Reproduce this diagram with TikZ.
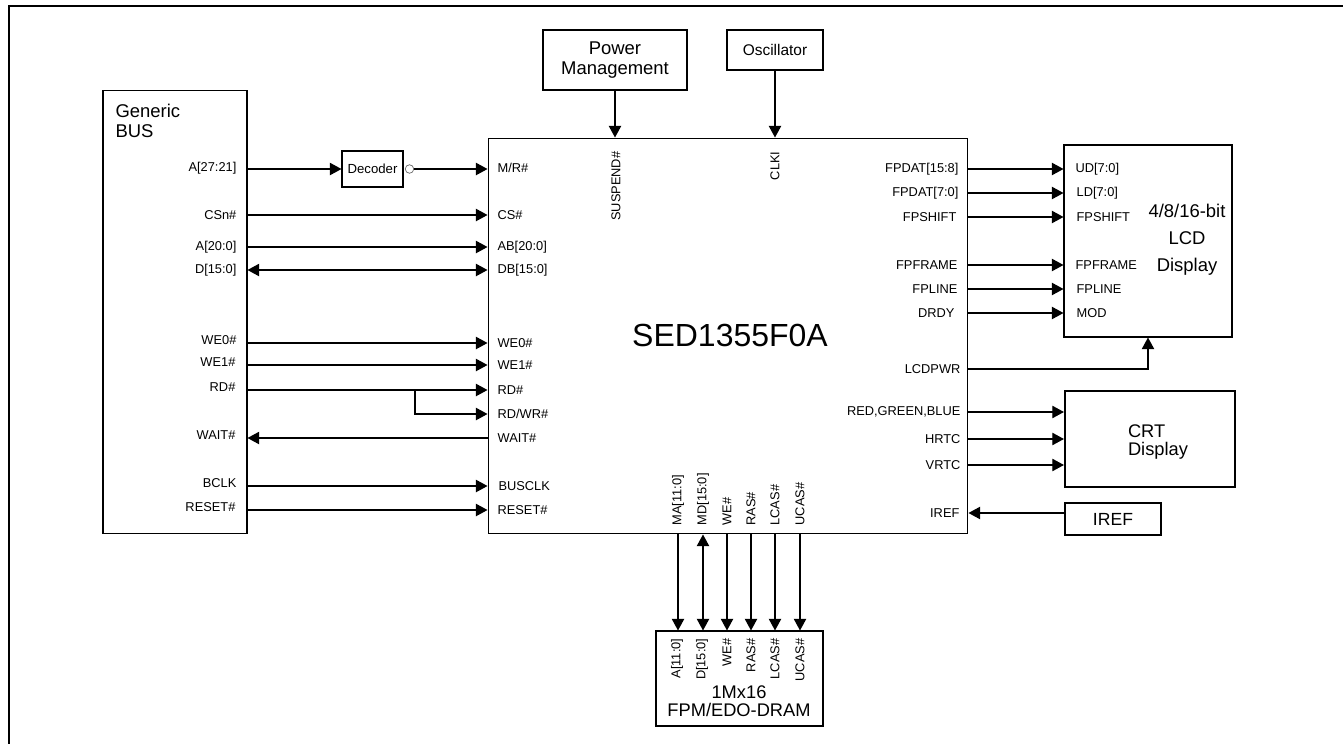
\documentclass[tikz,border=0pt]{standalone}
\usepackage{fontspec}
\setmainfont{Liberation Sans}
\usetikzlibrary{arrows.meta}
\tikzset{>={Triangle[length=6.6pt,width=7pt]}}

\begin{document}
\begin{tikzpicture}[x=0.02cm,y=-0.02cm,line width=0.7pt,
	box/.style={draw,line width=0.6pt,inner sep=0pt},
	sigw/.style={anchor=east,inner sep=0pt,font=\fontsize{7.3}{8.6}\selectfont},
	sige/.style={anchor=west,inner sep=0pt,font=\fontsize{7.3}{8.6}\selectfont},
	sigv/.style={rotate=90,inner sep=0pt,font=\fontsize{7.3}{8.6}\selectfont},
	big/.style={font=\fontsize{10.5}{11.3}\selectfont}]
	\useasboundingbox (0,0) rectangle (1343,744);
	\draw[line width=1.7pt] (9,744) -- (9,6) -- (1343,6);

	% blocks
	\node[box,minimum width=2.88cm,minimum height=8.88cm] (bus) at (175,312) {};
	\node[big,align=left,anchor=north west,inner sep=0pt] (bust) at (115,104) {Generic\\BUS};
	\node[box,minimum width=9.6cm,minimum height=7.92cm] (sed) at (728,336) {};
	\node[font=\fontsize{18.2}{22}\selectfont] (sedt) at (730,335) {SED1355F0A};
	\node[box,big,align=center,minimum width=2.88cm,minimum height=1.2cm] (pm) at (615,60) {Power\\Management};
	\node[box,font=\fontsize{8.8}{10}\selectfont,minimum width=1.92cm,minimum height=0.8cm] (osc) at (775,50) {Oscillator};
	\node[box,font=\fontsize{7.5}{9}\selectfont,minimum width=1.22cm,minimum height=0.72cm] (dec) at (372.5,169) {Decoder};
	\node[draw=black!60,circle,line width=0.4pt,inner sep=0pt,minimum size=0.17cm] (bub) at (409.5,169) {};
	\node[box,minimum width=3.36cm,minimum height=3.84cm] (lcd) at (1148,241) {};
	\node[align=center,font=\fontsize{10.5}{15.3}\selectfont] (lcdt) at (1187,240) {4/8/16-bit\\LCD\\Display};
	\node[box,line width=1.2pt,minimum width=3.4cm,minimum height=1.92cm] (crt) at (1150,439) {};
	\node[big,align=left,font=\fontsize{10.4}{10.8}\selectfont] (crtt) at (1158,442) {CRT\\Display};
	\node[box,line width=1.2pt,minimum width=1.92cm,minimum height=0.64cm,font=\fontsize{10}{12}\selectfont] (iref) at (1113,519) {IREF};
	\node[box,minimum width=3.34cm,minimum height=1.9cm] (dram) at (739.5,678.5) {};
	\node[align=center,font=\fontsize{10.4}{10.4}\selectfont] (dramt) at (739,701) {1Mx16\\FPM/EDO-DRAM};

	% bus side
	\node[sigw] (ba) at (237,168) {A[27:21]};
	\node[sigw] (bcs) at (237,215) {CSn\#};
	\node[sigw] (bab) at (237,247) {A[20:0]};
	\node[sigw] (bdb) at (237,270) {D[15:0]};
	\node[sigw] (bwe0) at (237,340) {WE0\#};
	\node[sigw] (bwe1) at (236,362) {WE1\#};
	\node[sigw] (brd) at (236,387) {RD\#};
	\node[sigw] (bwait) at (236,435) {WAIT\#};
	\node[sigw] (bclk) at (237,483) {BCLK};
	\node[sigw] (brst) at (236,507) {RESET\#};

	% chip, left
	\node[sige] (smr) at (497,168) {M/R\#};
	\node[sige] (scs) at (497,215) {CS\#};
	\node[sige] (sab) at (497,247) {AB[20:0]};
	\node[sige] (sdb) at (497,270) {DB[15:0]};
	\node[sige] (swe0) at (497,343) {WE0\#};
	\node[sige] (swe1) at (497,365) {WE1\#};
	\node[sige] (srd) at (497,390) {RD\#};
	\node[sige] (srw) at (497,414) {RD/WR\#};
	\node[sige] (swait) at (497,438) {WAIT\#};
	\node[sige] (sbclk) at (498,486) {BUSCLK};
	\node[sige] (srst) at (497,510) {RESET\#};

	% chip, top and bottom
	\node[sigv,anchor=east] (ssus) at (616,151) {SUSPEND\#};
	\node[sigv,anchor=east] (sclk) at (775,151) {CLKI};
	\node[sigv,anchor=west] (sma) at (678,526) {MA[11:0]};
	\node[sigv,anchor=west] (smd) at (703,526) {MD[15:0]};
	\node[sigv,anchor=west] (swe) at (727,526) {WE\#};
	\node[sigv,anchor=west] (sras) at (751,526) {RAS\#};
	\node[sigv,anchor=west] (slcas) at (775,526) {LCAS\#};
	\node[sigv,anchor=west] (sucas) at (800,526) {UCAS\#};

	% chip, right
	\node[sigw] (sfh) at (959,169) {FPDAT[15:8]};
	\node[sigw] (sfl) at (959,193) {FPDAT[7:0]};
	\node[sigw] (sfs) at (957,217) {FPSHIFT};
	\node[sigw] (sff) at (958,265) {FPFRAME};
	\node[sigw] (sfln) at (958,289) {FPLINE};
	\node[sigw] (sdr) at (955,313) {DRDY};
	\node[sigw] (spw) at (961,369) {LCDPWR};
	\node[sigw] (srgb) at (961,412) {RED,GREEN,BLUE};
	\node[sigw] (shr) at (961,439) {HRTC};
	\node[sigw] (svr) at (961,465) {VRTC};
	\node[sigw] (sir) at (960,513) {IREF};

	% lcd and dram pins
	\node[sige] (lud) at (1075,169) {UD[7:0]};
	\node[sige] (lld) at (1076,193) {LD[7:0]};
	\node[sige] (lfs) at (1076,217) {FPSHIFT};
	\node[sige] (lff) at (1075,265) {FPFRAME};
	\node[sige] (lfl) at (1076,289) {FPLINE};
	\node[sige] (lmod) at (1076,313) {MOD};
	\node[sigv,anchor=east] (ra) at (677,638) {A[11:0]};
	\node[sigv,anchor=east] (rd) at (702,638) {D[15:0]};
	\node[sigv,anchor=east] (rwe) at (727,638) {WE\#};
	\node[sigv,anchor=east] (rras) at (751,638) {RAS\#};
	\node[sigv,anchor=east] (rlcas) at (775,638) {LCAS\#};
	\node[sigv,anchor=east] (rucas) at (800,638) {UCAS\#};

	% bus connections
	\draw[->] (bus.east |- dec.west) -- (dec.west);
	\draw[->] (bub.east) -- (sed.west |- bub.east);
	\draw[->] (bus.east |- scs.west) -- (sed.west |- scs.west);
	\draw[->] (bus.east |- sab.west) -- (sed.west |- sab.west);
	\draw[<->] (bus.east |- sdb.west) -- (sed.west |- sdb.west);
	\draw[->] (bus.east |- swe0.west) -- (sed.west |- swe0.west);
	\draw[->] (bus.east |- swe1.west) -- (sed.west |- swe1.west);
	\draw[->] (bus.east |- srd.west) -- (sed.west |- srd.west);
	\coordinate (rdj) at (415,390);
	\draw[->] (rdj) |- (sed.west |- srw.west);
	\draw[<-] (bus.east |- swait.west) -- (sed.west |- swait.west);
	\draw[->] (bus.east |- sbclk.west) -- (sed.west |- sbclk.west);
	\draw[->] (bus.east |- srst.west) -- (sed.west |- srst.west);

	% top
	\draw[->] (pm.south) -- (pm.south |- sed.north);
	\draw[->] (osc.south) -- (osc.south |- sed.north);

	% panel and crt
	\draw[->] (sed.east |- sfh.east) -- (lcd.west |- sfh.east);
	\draw[->] (sed.east |- sfl.east) -- (lcd.west |- sfl.east);
	\draw[->] (sed.east |- sfs.east) -- (lcd.west |- sfs.east);
	\draw[->] (sed.east |- sff.east) -- (lcd.west |- sff.east);
	\draw[->] (sed.east |- sfln.east) -- (lcd.west |- sfln.east);
	\draw[->] (sed.east |- sdr.east) -- (lcd.west |- sdr.east);
	\draw[->] (sed.east |- spw.east) -| (lcd.south);
	\draw[->] (sed.east |- srgb.east) -- (crt.west |- srgb.east);
	\draw[->] (sed.east |- shr.east) -- (crt.west |- shr.east);
	\draw[->] (sed.east |- svr.east) -- (crt.west |- svr.east);
	\draw[->] (iref.west |- sir.east) -- (sed.east |- sir.east);

	% memory
	\draw[->] (sed.south -| sma) -- (dram.north -| sma);
	\draw[<->] (sed.south -| smd) -- (dram.north -| smd);
	\draw[->] (sed.south -| swe) -- (dram.north -| swe);
	\draw[->] (sed.south -| sras) -- (dram.north -| sras);
	\draw[->] (sed.south -| slcas) -- (dram.north -| slcas);
	\draw[->] (sed.south -| sucas) -- (dram.north -| sucas);
\end{tikzpicture}
\end{document}
